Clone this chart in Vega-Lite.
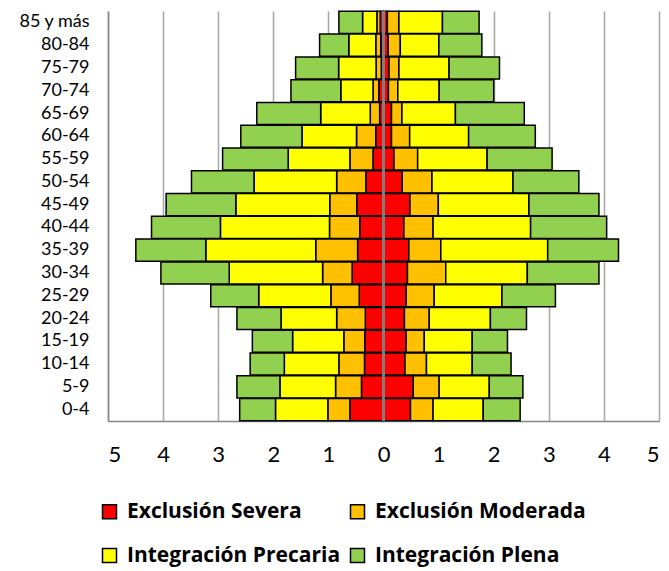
{
  "$schema": "https://vega.github.io/schema/vega-lite/v6.json",
  "width": 551,
  "height": 410,
  "autosize": {"type": "none"},
  "padding": {"left": 108, "top": 11, "right": 10, "bottom": 150},
  "background": "white",
  "config": {
    "font": "Lato",
    "view": {"stroke": null}
  },
  "data": {
    "values": [
      {"edad": "85 y más", "sexo": "Hombres", "Exclusión Severa": -0.06, "Exclusión Moderada": -0.06, "Integración Precaria": -0.26, "Integración Plena": -0.43},
      {"edad": "85 y más", "sexo": "Mujeres", "Exclusión Severa": 0.07, "Exclusión Moderada": 0.21, "Integración Precaria": 0.79, "Integración Plena": 0.665},
      {"edad": "80-84", "sexo": "Hombres", "Exclusión Severa": -0.05, "Exclusión Moderada": -0.09, "Integración Precaria": -0.49, "Integración Plena": -0.53},
      {"edad": "80-84", "sexo": "Mujeres", "Exclusión Severa": 0.085, "Exclusión Moderada": 0.22, "Integración Precaria": 0.70, "Integración Plena": 0.78},
      {"edad": "75-79", "sexo": "Hombres", "Exclusión Severa": -0.04, "Exclusión Moderada": -0.095, "Integración Precaria": -0.68, "Integración Plena": -0.78},
      {"edad": "75-79", "sexo": "Mujeres", "Exclusión Severa": 0.10, "Exclusión Moderada": 0.18, "Integración Precaria": 0.91, "Integración Plena": 0.915},
      {"edad": "70-74", "sexo": "Hombres", "Exclusión Severa": -0.085, "Exclusión Moderada": -0.105, "Integración Precaria": -0.585, "Integración Plena": -0.905},
      {"edad": "70-74", "sexo": "Mujeres", "Exclusión Severa": 0.09, "Exclusión Moderada": 0.17, "Integración Precaria": 0.75, "Integración Plena": 0.99},
      {"edad": "65-69", "sexo": "Hombres", "Exclusión Severa": -0.07, "Exclusión Moderada": -0.17, "Integración Precaria": -0.90, "Integración Plena": -1.16},
      {"edad": "65-69", "sexo": "Mujeres", "Exclusión Severa": 0.145, "Exclusión Moderada": 0.19, "Integración Precaria": 0.97, "Integración Plena": 1.25},
      {"edad": "60-64", "sexo": "Hombres", "Exclusión Severa": -0.14, "Exclusión Moderada": -0.35, "Integración Precaria": -0.99, "Integración Plena": -1.11},
      {"edad": "60-64", "sexo": "Mujeres", "Exclusión Severa": 0.145, "Exclusión Moderada": 0.33, "Integración Precaria": 1.07, "Integración Plena": 1.21},
      {"edad": "55-59", "sexo": "Hombres", "Exclusión Severa": -0.19, "Exclusión Moderada": -0.42, "Integración Precaria": -1.12, "Integración Plena": -1.19},
      {"edad": "55-59", "sexo": "Mujeres", "Exclusión Severa": 0.19, "Exclusión Moderada": 0.43, "Integración Precaria": 1.26, "Integración Plena": 1.18},
      {"edad": "50-54", "sexo": "Hombres", "Exclusión Severa": -0.32, "Exclusión Moderada": -0.53, "Integración Precaria": -1.50, "Integración Plena": -1.135},
      {"edad": "50-54", "sexo": "Mujeres", "Exclusión Severa": 0.34, "Exclusión Moderada": 0.54, "Integración Precaria": 1.47, "Integración Plena": 1.195},
      {"edad": "45-49", "sexo": "Hombres", "Exclusión Severa": -0.485, "Exclusión Moderada": -0.49, "Integración Precaria": -1.705, "Integración Plena": -1.265},
      {"edad": "45-49", "sexo": "Mujeres", "Exclusión Severa": 0.48, "Exclusión Moderada": 0.515, "Integración Precaria": 1.645, "Integración Plena": 1.27},
      {"edad": "40-44", "sexo": "Hombres", "Exclusión Severa": -0.43, "Exclusión Moderada": -0.55, "Integración Precaria": -1.98, "Integración Plena": -1.25},
      {"edad": "40-44", "sexo": "Mujeres", "Exclusión Severa": 0.37, "Exclusión Moderada": 0.53, "Integración Precaria": 1.77, "Integración Plena": 1.38},
      {"edad": "35-39", "sexo": "Hombres", "Exclusión Severa": -0.47, "Exclusión Moderada": -0.76, "Integración Precaria": -1.995, "Integración Plena": -1.27},
      {"edad": "35-39", "sexo": "Mujeres", "Exclusión Severa": 0.46, "Exclusión Moderada": 0.58, "Integración Precaria": 1.94, "Integración Plena": 1.285},
      {"edad": "30-34", "sexo": "Hombres", "Exclusión Severa": -0.57, "Exclusión Moderada": -0.535, "Integración Precaria": -1.695, "Integración Plena": -1.24},
      {"edad": "30-34", "sexo": "Mujeres", "Exclusión Severa": 0.435, "Exclusión Moderada": 0.695, "Integración Precaria": 1.48, "Integración Plena": 1.30},
      {"edad": "25-29", "sexo": "Hombres", "Exclusión Severa": -0.44, "Exclusión Moderada": -0.515, "Integración Precaria": -1.31, "Integración Plena": -0.87},
      {"edad": "25-29", "sexo": "Mujeres", "Exclusión Severa": 0.41, "Exclusión Moderada": 0.51, "Integración Precaria": 1.23, "Integración Plena": 0.97},
      {"edad": "20-24", "sexo": "Hombres", "Exclusión Severa": -0.33, "Exclusión Moderada": -0.52, "Integración Precaria": -1.01, "Integración Plena": -0.80},
      {"edad": "20-24", "sexo": "Mujeres", "Exclusión Severa": 0.38, "Exclusión Moderada": 0.45, "Integración Precaria": 1.11, "Integración Plena": 0.655},
      {"edad": "15-19", "sexo": "Hombres", "Exclusión Severa": -0.34, "Exclusión Moderada": -0.38, "Integración Precaria": -0.93, "Integración Plena": -0.73},
      {"edad": "15-19", "sexo": "Mujeres", "Exclusión Severa": 0.41, "Exclusión Moderada": 0.33, "Integración Precaria": 0.87, "Integración Plena": 0.64},
      {"edad": "10-14", "sexo": "Hombres", "Exclusión Severa": -0.345, "Exclusión Moderada": -0.465, "Integración Precaria": -0.99, "Integración Plena": -0.62},
      {"edad": "10-14", "sexo": "Mujeres", "Exclusión Severa": 0.39, "Exclusión Moderada": 0.39, "Integración Precaria": 0.83, "Integración Plena": 0.705},
      {"edad": "5-9", "sexo": "Hombres", "Exclusión Severa": -0.40, "Exclusión Moderada": -0.47, "Integración Precaria": -1.01, "Integración Plena": -0.78},
      {"edad": "5-9", "sexo": "Mujeres", "Exclusión Severa": 0.54, "Exclusión Moderada": 0.47, "Integración Precaria": 0.91, "Integración Plena": 0.61},
      {"edad": "0-4", "sexo": "Hombres", "Exclusión Severa": -0.61, "Exclusión Moderada": -0.40, "Integración Precaria": -0.95, "Integración Plena": -0.65},
      {"edad": "0-4", "sexo": "Mujeres", "Exclusión Severa": 0.49, "Exclusión Moderada": 0.41, "Integración Precaria": 0.91, "Integración Plena": 0.67}
    ]
  },
  "transform": [
    {"fold": ["Exclusión Severa", "Exclusión Moderada", "Integración Precaria", "Integración Plena"], "as": ["grupo", "valor"]},
    {"calculate": "indexof(['Exclusión Severa', 'Exclusión Moderada', 'Integración Precaria', 'Integración Plena'], datum.grupo)", "as": "orden"}
  ],
  "layer": [
    {
      "mark": {"type": "bar", "stroke": "black", "strokeWidth": 1.5},
      "encoding": {
        "y": {
          "field": "edad",
          "type": "nominal",
          "sort": ["85 y más", "80-84", "75-79", "70-74", "65-69", "60-64", "55-59", "50-54", "45-49", "40-44", "35-39", "30-34", "25-29", "20-24", "15-19", "10-14", "5-9", "0-4"],
          "scale": {"paddingInner": 0.03, "paddingOuter": 0.015},
          "axis": {
            "title": null,
            "ticks": false,
            "labelPadding": 19,
            "labelFontSize": 18,
            "labelColor": "black",
            "domain": true,
            "domainColor": "#868686",
            "domainWidth": 1.5
          }
        },
        "x": {
          "field": "valor",
          "type": "quantitative",
          "stack": "zero",
          "scale": {"domain": [-5, 5], "nice": false},
          "axis": {
            "title": null,
            "values": [-5, -4, -3, -2, -1, 0, 1, 2, 3, 4, 5],
            "labelExpr": "abs(datum.value)",
            "ticks": false,
            "labelFontSize": 22,
            "labelColor": "black",
            "labelPadding": 23,
            "grid": true,
            "gridColor": "#a6a6a6",
            "gridWidth": 1.5,
            "domainColor": "#868686",
            "domainWidth": 1.5
          }
        },
        "color": {
          "field": "grupo",
          "type": "nominal",
          "scale": {
            "domain": ["Exclusión Severa", "Exclusión Moderada", "Integración Precaria", "Integración Plena"],
            "range": ["#ff0000", "#ffc000", "#ffff00", "#92d050"]
          },
          "legend": {
            "title": null,
            "orient": "none",
            "legendX": -9,
            "legendY": 490,
            "direction": "horizontal",
            "columns": 2,
            "columnPadding": 6,
            "rowPadding": 22,
            "symbolType": "square",
            "symbolSize": 196,
            "symbolStrokeColor": "black",
            "symbolStrokeWidth": 1.5,
            "symbolOpacity": 1,
            "labelFont": "Open Sans",
            "labelFontSize": 21,
            "labelFontWeight": "bold",
            "labelColor": "black",
            "labelOffset": 7,
            "labelLimit": 300
          }
        },
        "order": {"field": "orden", "type": "quantitative", "sort": "ascending"}
      }
    },
    {
      "mark": {"type": "rule", "color": "#7f7f7f", "strokeWidth": 1.5},
      "encoding": {"x": {"datum": 0}}
    }
  ]
}
